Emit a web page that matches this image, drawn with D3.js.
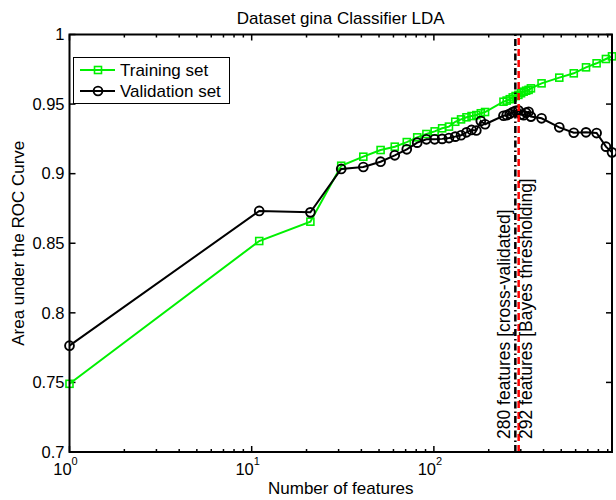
<!DOCTYPE html>
<html>
<head>
<meta charset="utf-8">
<script src="https://cdn.jsdelivr.net/npm/d3@7"></script>
<style>
	body { margin: 0; background: #fff; }
	svg { display: block; font-family: "Liberation Sans", Arial, sans-serif; }
	.axis path, .axis line { stroke: #000; }
</style>
</head>
<body>
<div id="chart"></div>
<script>
/* global d3 */

// number of features tried
var features = [1, 11, 21, 31, 41, 51, 61, 71, 81, 91, 101, 111, 121, 131, 141, 151, 161, 171, 181, 191,
	241, 251, 261, 271, 281, 291, 301, 311, 321, 331, 341,
	390, 488, 586, 684, 782, 880, 950];

var trainAUC = [0.749, 0.8516, 0.8655, 0.9057, 0.9122, 0.917, 0.9194, 0.9227, 0.9261, 0.9285,
	0.9304, 0.9326, 0.9338, 0.9373, 0.939, 0.9405, 0.9414, 0.9421, 0.9434, 0.9443,
	0.9517, 0.9525, 0.9535, 0.9548, 0.9558, 0.9566, 0.9578, 0.9589, 0.9596, 0.9602, 0.9613,
	0.9649, 0.969, 0.9721, 0.9764, 0.9793, 0.9824, 0.9843];

var validAUC = [0.7764, 0.8732, 0.8722, 0.9034, 0.9048, 0.9086, 0.9132, 0.9175, 0.9223, 0.9247,
	0.9247, 0.925, 0.9256, 0.9266, 0.9276, 0.9297, 0.9314, 0.931, 0.9378, 0.9355,
	0.9416, 0.942, 0.943, 0.9443, 0.9452, 0.9455, 0.9425, 0.942, 0.9438, 0.9445, 0.941,
	0.9398, 0.9333, 0.9294, 0.9297, 0.9292, 0.9194, 0.9153];

var seriesNames = ['Training set', 'Validation set'];
var yTicks = [0.7, 0.75, 0.8, 0.85, 0.9, 0.95, 1];
var xTicks = [1, 10, 100];
var cvFeatures = 280, bayesFeatures = 292;
var cvLabel = '280 features [cross-validated]';
var bayesLabel = '292 features [Bayes thresholding]';
var title = 'Dataset gina Classifier LDA';
var xTitle = 'Number of features';
var yTitle = 'Area under the ROC Curve';

var W = 616, H = 500;
var box = {left: 69.5, right: 612, top: 34.5, bottom: 452};
var green = '#00f000';

var x = d3.scaleLog().domain([1, 950]).range([box.left, box.right]);
var y = d3.scaleLinear().domain([0.7, 1]).range([box.bottom, box.top]);

var svg = d3.select('#chart').append('svg')
	.attr('width', W)
	.attr('height', H);

// minor + major ticks, drawn inward on all four sides
var minor = [];
for (var dec = 1; dec < 1000; dec *= 10) {
	for (var k = 2; k <= 9; k++) {
		if (dec * k < 950) minor.push(dec * k);
	}
}

var ticks = svg.append('g').attr('class', 'axis');
minor.forEach(function (d) {
	ticks.append('line').attr('x1', x(d)).attr('x2', x(d)).attr('y1', box.bottom).attr('y2', box.bottom - 3).attr('stroke-width', 1.5);
	ticks.append('line').attr('x1', x(d)).attr('x2', x(d)).attr('y1', box.top).attr('y2', box.top + 3).attr('stroke-width', 1.5);
});
xTicks.forEach(function (d) {
	ticks.append('line').attr('x1', x(d)).attr('x2', x(d)).attr('y1', box.bottom).attr('y2', box.bottom - 6).attr('stroke-width', 1.5);
	ticks.append('line').attr('x1', x(d)).attr('x2', x(d)).attr('y1', box.top).attr('y2', box.top + 6).attr('stroke-width', 1.5);
});
yTicks.forEach(function (d) {
	ticks.append('line').attr('x1', box.left).attr('x2', box.left + 6).attr('y1', y(d)).attr('y2', y(d)).attr('stroke-width', 1.5);
	ticks.append('line').attr('x1', box.right).attr('x2', box.right - 6).attr('y1', y(d)).attr('y2', y(d)).attr('stroke-width', 1.5);
});

// tick labels
svg.append('g').selectAll('text')
	.data(yTicks)
	.enter().append('text')
		.attr('x', box.left - 5)
		.attr('y', function (d) { return y(d); })
		.attr('dy', '0.35em')
		.attr('text-anchor', 'end')
		.style('font-size', '16.5px')
		.text(function (d) { return String(+d.toFixed(2)); });

var xl = svg.append('g').selectAll('text')
	.data(xTicks)
	.enter().append('text')
		.attr('x', function (d) { return x(d) - 4; })
		.attr('y', 475)
		.attr('text-anchor', 'middle')
		.style('font-size', '16.5px');
xl.append('tspan').text('10');
xl.append('tspan')
	.attr('dy', -10)
	.style('font-size', '11px')
	.text(function (d) { return Math.round(Math.log10(d)); });

// data lines
var line = d3.line()
	.x(function (d) { return x(d[0]); })
	.y(function (d) { return y(d[1]); });

var trainPts = features.map(function (f, i) { return [f, trainAUC[i]]; });
var validPts = features.map(function (f, i) { return [f, validAUC[i]]; });

var plot = svg.append('g');

plot.append('path')
	.attr('d', line(trainPts))
	.attr('fill', 'none')
	.attr('stroke', green)
	.attr('stroke-width', 2);
plot.selectAll('.sq')
	.data(trainPts)
	.enter().append('rect')
		.attr('class', 'sq')
		.attr('x', function (d) { return x(d[0]) - 3.5; })
		.attr('y', function (d) { return y(d[1]) - 3.5; })
		.attr('width', 7)
		.attr('height', 7)
		.attr('fill', 'none')
		.attr('stroke', green)
		.attr('stroke-width', 1.6);

plot.append('path')
	.attr('d', line(validPts))
	.attr('fill', 'none')
	.attr('stroke', '#000')
	.attr('stroke-width', 2);
plot.selectAll('.ci')
	.data(validPts)
	.enter().append('circle')
		.attr('class', 'ci')
		.attr('cx', function (d) { return x(d[0]); })
		.attr('cy', function (d) { return y(d[1]); })
		.attr('r', 4.4)
		.attr('fill', 'none')
		.attr('stroke', '#000')
		.attr('stroke-width', 1.9);

// chosen feature counts
plot.append('line')
	.attr('x1', x(cvFeatures)).attr('x2', x(cvFeatures))
	.attr('y1', box.bottom).attr('y2', box.top)
	.attr('stroke', '#000')
	.attr('stroke-width', 2.5)
	.attr('stroke-dasharray', '7,3,1.5,3');
plot.append('line')
	.attr('x1', x(bayesFeatures)).attr('x2', x(bayesFeatures))
	.attr('y1', box.bottom).attr('y2', box.top)
	.attr('stroke', '#ff0000')
	.attr('stroke-width', 2.5)
	.attr('stroke-dasharray', '7,4');

svg.append('text')
	.attr('transform', 'translate(' + (x(cvFeatures) - 5) + ',439) rotate(-90)')
	.style('font-size', '17.5px')
	.text(cvLabel);
svg.append('text')
	.attr('transform', 'translate(' + (x(bayesFeatures) + 13) + ',439) rotate(-90)')
	.style('font-size', '17.5px')
	.text(bayesLabel);

// box
svg.append('rect')
	.attr('x', box.left).attr('y', box.top)
	.attr('width', box.right - box.left).attr('height', box.bottom - box.top)
	.attr('fill', 'none')
	.attr('stroke', '#000')
	.attr('stroke-width', 2);

// titles
svg.append('text')
	.attr('x', (box.left + box.right) / 2).attr('y', 24)
	.attr('text-anchor', 'middle')
	.style('font-size', '17px')
	.text(title);
svg.append('text')
	.attr('x', (box.left + box.right) / 2).attr('y', 494)
	.attr('text-anchor', 'middle')
	.style('font-size', '17px')
	.text(xTitle);
svg.append('text')
	.attr('transform', 'translate(24,' + ((box.top + box.bottom) / 2) + ') rotate(-90)')
	.attr('text-anchor', 'middle')
	.style('font-size', '17px')
	.text(yTitle);

// legend
var legend = svg.append('g');
legend.append('rect')
	.attr('x', 73.5).attr('y', 57.5)
	.attr('width', 156).attr('height', 46)
	.attr('fill', '#fff')
	.attr('stroke', '#000')
	.attr('stroke-width', 1);
var items = legend.selectAll('.item')
	.data(seriesNames)
	.enter().append('g')
		.attr('class', 'item')
		.attr('transform', function (d, i) { return 'translate(0,' + (70 + i * 21) + ')'; });
items.append('line')
	.attr('x1', 80).attr('x2', 115)
	.attr('stroke', function (d, i) { return i ? '#000' : green; })
	.attr('stroke-width', 2);
items.filter(function (d, i) { return i === 0; }).append('rect')
	.attr('x', 94.5).attr('y', -3.5).attr('width', 7).attr('height', 7)
	.attr('fill', 'none').attr('stroke', green).attr('stroke-width', 1.6);
items.filter(function (d, i) { return i === 1; }).append('circle')
	.attr('cx', 98).attr('r', 4.4)
	.attr('fill', 'none').attr('stroke', '#000').attr('stroke-width', 1.9);
items.append('text')
	.attr('x', 120)
	.attr('dy', '0.35em')
	.style('font-size', '17px')
	.text(function (d) { return d; });
</script>
</body>
</html>
